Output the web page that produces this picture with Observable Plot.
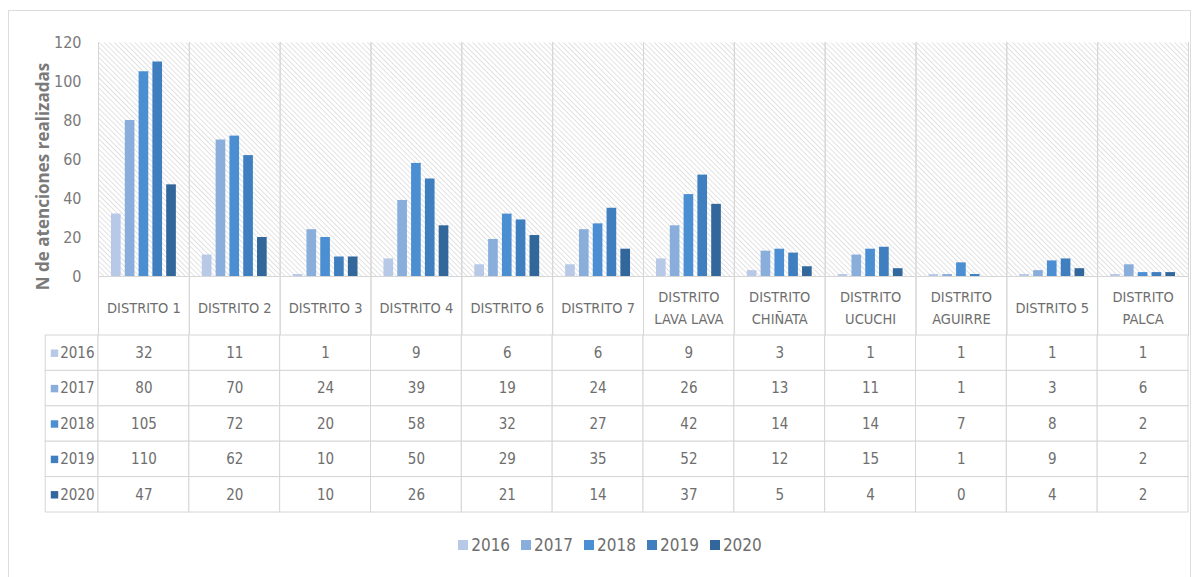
<!DOCTYPE html>
<html>
<head>
<meta charset="utf-8">
<script src="https://cdn.jsdelivr.net/npm/d3@7"></script>
<script src="https://cdn.jsdelivr.net/npm/@observablehq/plot@0.6"></script>
<style>
  html, body { margin: 0; padding: 0; background: #fff; }
  #wrap { position: relative; width: 1195px; height: 577px; overflow: hidden; background: #fff;
          font-family: "Liberation Sans Narrow", "DejaVu Sans Condensed", "Liberation Sans", sans-serif; }
  #border { position: absolute; left: 8px; top: 10px; width: 1183px; height: 580px;
            border: 1px solid #dcdcdc; box-sizing: border-box; }
  #chart, #table, #legend { position: absolute; left: 0; }
  #chart { top: 0; }
  #table { top: 334px; }
  #legend { top: 535px; width: 1195px; display: flex; justify-content: center; }
  .lg { display: flex; align-items: center; font-size: 17px; color: #6e6e6e; margin-left: 26px; }
  .lg span.item { display: inline-flex; align-items: center; margin: 0 6px 0 5px; }
  .lg span.sw { display: inline-block; width: 10px; height: 10px; margin-right: 3px; }
</style>
</head>
<body>
<div id="wrap">
  <div id="border"></div>
  <div id="chart"></div>
  <div id="table"></div>
  <div id="legend"></div>
</div>
<script>
// ---- data ----
const districts = ["DISTRITO 1","DISTRITO 2","DISTRITO 3","DISTRITO 4","DISTRITO 6","DISTRITO 7",
  "DISTRITO LAVA LAVA","DISTRITO CHIÑATA","DISTRITO UCUCHI","DISTRITO AGUIRRE","DISTRITO 5","DISTRITO PALCA"];
const districtLabels = ["DISTRITO 1","DISTRITO 2","DISTRITO 3","DISTRITO 4","DISTRITO 6","DISTRITO 7",
  "DISTRITO\nLAVA LAVA","DISTRITO\nCHIÑATA","DISTRITO\nUCUCHI","DISTRITO\nAGUIRRE","DISTRITO 5","DISTRITO\nPALCA"];
const years = ["2016","2017","2018","2019","2020"];
const v2016 = [32,11,1,9,6,6,9,3,1,1,1,1];
const v2017 = [80,70,24,39,19,24,26,13,11,1,3,6];
const v2018 = [105,72,20,58,32,27,42,14,14,7,8,2];
const v2019 = [110,62,10,50,29,35,52,12,15,1,9,2];
const v2020 = [47,20,10,26,21,14,37,5,4,0,4,2];
const yTicks = [0,20,40,60,80,100,120];
const yTitle = "N de atenciones realizadas";
const colors = ["#b7c9e6","#8aaedb","#4c8ed2","#3f7fc0","#32679c"];

const series = [v2016, v2017, v2018, v2019, v2020];
const rows = [];
years.forEach((y, i) => districts.forEach((d, j) => rows.push({district: d, year: y, value: series[i][j]})));

const FONT = '"Liberation Sans Narrow", "DejaVu Sans Condensed", "Liberation Sans", sans-serif';
const GRID = "#d6d6d6";
const TXT = "#6e6e6e";

// ---- chart ----
const chart = Plot.plot({
  width: 1195,
  height: 335,
  marginTop: 42,
  marginBottom: 59,
  marginLeft: 98,
  marginRight: 7,
  style: {fontFamily: FONT, color: TXT, background: "transparent", overflow: "visible"},
  fx: {domain: districts, padding: 0, round: false, axis: null},
  x: {domain: years, paddingInner: 0.3, paddingOuter: 0.94, round: false, axis: null},
  y: {domain: [0, 120], axis: null},
  color: {domain: years, range: colors},
  marks: [
    Plot.frame({fill: "url(#hatch)", stroke: "none"}),
    Plot.frame({anchor: "left", stroke: GRID, insetBottom: -59}),
    Plot.frame({anchor: "right", stroke: GRID, insetBottom: -59}),
    Plot.barY(rows, {fx: "district", x: "year", y: "value", fill: "year"}),
    Plot.ruleY([0], {stroke: GRID, strokeWidth: 1.2}),
    Plot.axisY({ticks: yTicks, tickSize: 0, tickPadding: 17, fontSize: 16, label: null, fill: "#7a7a7a",
      facetAnchor: "left"}),
    Plot.text(districts, {fx: d => d, text: (d, i) => districtLabels[i], frameAnchor: "bottom",
      dy: 29.5, lineAnchor: "middle", lineHeight: 1.5, fontSize: 14.5, fill: TXT}),
    Plot.text([yTitle], {fx: () => districts[0], frameAnchor: "left", textAnchor: "middle", rotate: -90,
      dx: -55, dy: 17, fontSize: 17, fontWeight: "bold", fill: "#7a7a7a", fontFamily: '"Open Sans", sans-serif'})
  ]
});
const svgSel = d3.select(chart.tagName === "svg" ? chart : chart.querySelector("svg"));
const defs = svgSel.insert("defs", ":first-child");
const pat = defs.append("pattern").attr("id", "hatch").attr("patternUnits", "userSpaceOnUse")
  .attr("width", 3.6).attr("height", 3.6).attr("patternTransform", "rotate(-45)");
pat.append("rect").attr("width", 3.6).attr("height", 3.6).attr("fill", "#ffffff");
pat.append("line").attr("x1", 0).attr("y1", 0).attr("x2", 0).attr("y2", 3.6)
  .attr("stroke", "#cbcbcb").attr("stroke-width", 1.1);
document.getElementById("chart").appendChild(chart);

// ---- data table ----
const table = Plot.plot({
  width: 1195,
  height: 179,
  marginTop: 1,
  marginBottom: 1,
  marginLeft: 98,
  marginRight: 7,
  style: {fontFamily: FONT, color: TXT, background: "transparent", overflow: "visible"},
  x: {domain: districts, padding: 0, round: false, axis: null},
  y: {domain: years, padding: 0, round: false, axis: null},
  color: {domain: years, range: colors},
  marks: [
    Plot.cell(years, {x: () => districts[0], y: d => d, fill: "white", stroke: GRID, dx: -90.83, insetLeft: 38}),
    Plot.cell(rows, {x: "district", y: "year", fill: "white", stroke: GRID}),
    Plot.text(rows, {x: "district", y: "year", text: "value", fontSize: 15, fill: TXT}),
    Plot.dot(years, {y: d => d, frameAnchor: "left", dx: -44, symbol: "square", r: 4.2, fill: d => d}),
    Plot.axisY({tickSize: 0, tickPadding: 4, fontSize: 15, label: null, fill: TXT})
  ]
});
document.getElementById("table").appendChild(table);

// ---- legend ----
const lg = d3.select("#legend").append("div").attr("class", "lg");
years.forEach((y, i) => {
  const it = lg.append("span").attr("class", "item");
  it.append("span").attr("class", "sw").style("background", colors[i]);
  it.append("span").text(y);
});
</script>
</body>
</html>
